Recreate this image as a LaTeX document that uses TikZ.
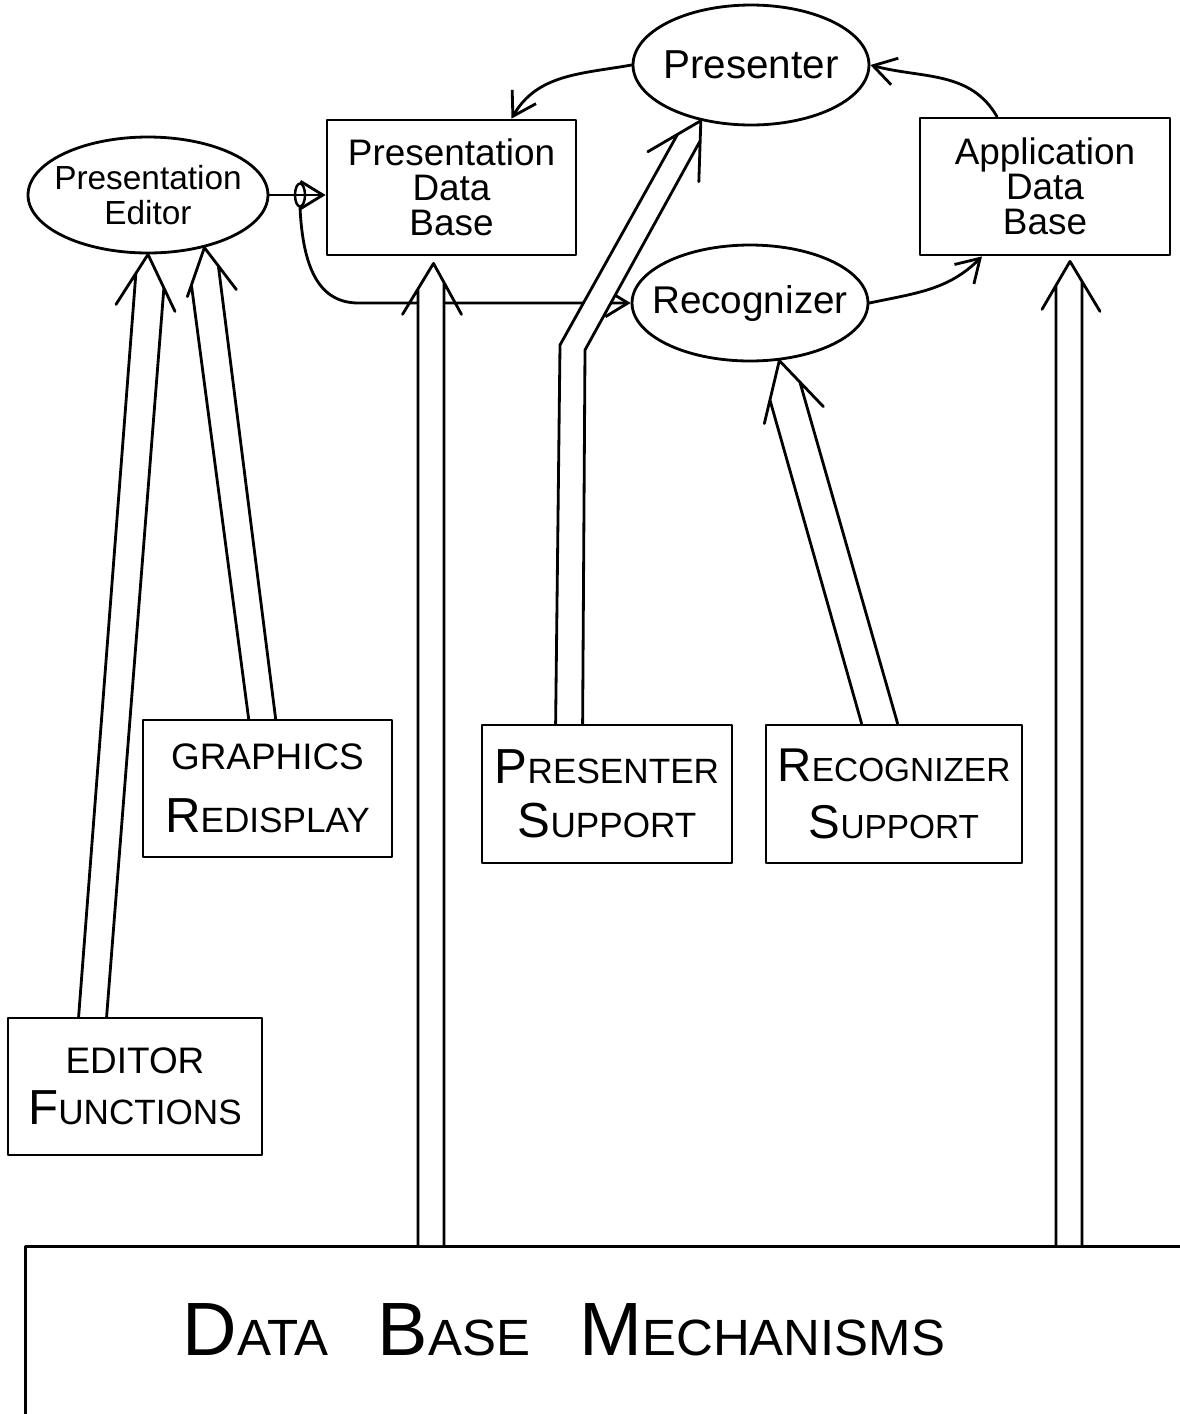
\documentclass[tikz,border=0pt]{standalone}
\usepackage{fontspec}
\setmainfont{Liberation Sans}
\usetikzlibrary{shapes.geometric,arrows.meta,calc}
\newcommand\bsx[4]{{\fontsize{#1}{#1}\selectfont #3}{\fontsize{#2}{#2}\selectfont #4}}
% #1 tip, #2 left wing, #3 right wing, #4 shaft bottom left, #5 left guide, #6 shaft bottom right, #7 right guide
\newcommand\fatarrow[7]{%
  \coordinate (fax) at (intersection of #4--#5 and #1--#2);
  \coordinate (fay) at (intersection of #6--#7 and #1--#3);
  \fill[white] (#4) -- (fax) -- (#1) -- (fay) -- (#6) -- cycle;
  \draw (#4) -- (fax) (#6) -- (fay) (#2) -- (#1) -- (#3);
}
\begin{document}
\begin{tikzpicture}[x=0.02cm,y=-0.02cm,line width=1.6pt,line cap=round,line join=round,
  box/.style={draw,rectangle,inner sep=0pt,align=center},
  oval/.style={draw,ellipse,inner sep=0pt},
  ovaltext/.style={font=\fontsize{#1}{20}\selectfont,align=center,inner sep=0pt},
  conn/.style={-{Straight Barb[length=4.5mm,width=5.5mm]}}]
\useasboundingbox (0,0) rectangle (1180,1414);
\clip (0,0) rectangle (1180,1414);
\fill[white] (0,0) rectangle (1180,1414);

% nodes
\node[oval,minimum width=4.8cm,minimum height=2.32cm,
  label={[ovaltext=19]center:Presentation\\Editor}] (pe) at (148,195) {};
\node[oval,minimum width=4.72cm,minimum height=2.4cm,
  label={[ovaltext=23]center:Presenter}] (pres) at (751,65) {};
\node[oval,minimum width=4.72cm,minimum height=2.32cm,
  label={[ovaltext=22]center:Recognizer}] (rec) at (750,303) {};
\node[box,minimum width=4.98cm,minimum height=2.7cm,font=\fontsize{21}{20}\selectfont] (pdb) at (451.5,187.5) {Presentation\\Data\\Base};
\node[box,minimum width=5cm,minimum height=2.74cm,font=\fontsize{21}{20}\selectfont] (app) at (1045,186.5) {Application\\Data\\Base};
\node[box,minimum width=4.98cm,minimum height=2.74cm,font=\fontsize{21}{36}\selectfont] (gr) at (267.5,788.5) {GRAPHICS\\\bsx{28}{20}{R}{EDISPLAY}};
\node[box,minimum width=5cm,minimum height=2.76cm,font=\fontsize{20}{31}\selectfont] (ps) at (607,794) {\bsx{28}{20}{P}{RESENTER}\\\bsx{28}{20}{S}{UPPORT}};
\node[box,minimum width=5.12cm,minimum height=2.76cm,font=\fontsize{20}{32}\selectfont] (rs) at (894,794) {\bsx{27}{19}{R}{ECOGNIZER}\\\bsx{27}{19}{S}{UPPORT}};
\node[box,minimum width=5.08cm,minimum height=2.74cm,font=\fontsize{21}{29}\selectfont] (ef) at (135,1086.5) {EDITOR\\\bsx{28}{20}{F}{UNCTIONS}};
\node[box,anchor=north west,minimum width=23.7cm,minimum height=4.1cm] (dbm) at (24,1245) {};
\node[anchor=base] (dbmt) at (564,1355) {\bsx{43}{29}{D}{ATA}\hspace{28pt}\bsx{43}{29}{B}{ASE}\hspace{28pt}\bsx{43}{29}{M}{ECHANISMS}};

% thin connectors
\node[draw,ellipse,minimum width=0.2cm,minimum height=0.46cm,inner sep=0pt,line width=1.4pt] (jn) at (300,195) {};
\draw[conn] (pe.east) -- (pdb.west |- pe.east);
\draw[conn] (jn.south) .. controls +(3,60) and +(-40,0) .. ($(rec.west)-(272,0)$) -- (rec.west);
\draw[conn] (pres.west) to[out=190,in=60] ($(pdb.north)+(60,0)$);
\draw[conn] ($(app.north)+(-48,0)$) to[out=120,in=-15] (pres.east);
\draw[conn] (rec.east) to[out=12,in=225] ($(app.south)+(-63,0)$);

% hollow arrows
% Editor Functions -> Presentation Editor
\coordinate (a1t) at (pe.south);
\coordinate (a1l) at ($(a1t)+(-32,50)$);
\coordinate (a1r) at ($(a1t)+(27,57)$);
\coordinate (a1bl) at ($(ef.north west)+(72,0)$);
\coordinate (a1br) at ($(ef.north west)+(100,0)$);
\coordinate (a1gl) at (130,350);
\coordinate (a1gr) at (159,350);
\fatarrow{a1t}{a1l}{a1r}{a1bl}{a1gl}{a1br}{a1gr}
% Graphics Redisplay -> Presentation Editor
\coordinate (a2t) at (pe.-43);
\coordinate (a2l) at ($(a2t)+(-17,49)$);
\coordinate (a2r) at ($(a2t)+(32,42)$);
\coordinate (a2bl) at ($(gr.north west)+(107,0)$);
\coordinate (a2br) at ($(gr.north west)+(134,0)$);
\coordinate (a2gl) at (200,350);
\coordinate (a2gr) at (229,350);
\fatarrow{a2t}{a2l}{a2r}{a2bl}{a2gl}{a2br}{a2gr}
% Data Base Mechanisms -> Presentation Data Base
\coordinate (a3t) at ($(pdb.south)+(-18,7)$);
\coordinate (a3l) at ($(a3t)+(-31,51)$);
\coordinate (a3r) at ($(a3t)+(28,51)$);
\coordinate (a3bl) at ($(dbm.north west)+(394,0)$);
\coordinate (a3br) at ($(dbm.north west)+(420,0)$);
\coordinate (a3gl) at ($(a3bl)+(0,-900)$);
\coordinate (a3gr) at ($(a3br)+(0,-900)$);
\fatarrow{a3t}{a3l}{a3r}{a3bl}{a3gl}{a3br}{a3gr}
% Data Base Mechanisms -> Application Data Base
\coordinate (a4t) at ($(app.south)+(25,5)$);
\coordinate (a4l) at ($(a4t)+(-28,48)$);
\coordinate (a4r) at ($(a4t)+(30,50)$);
\coordinate (a4bl) at ($(dbm.north west)+(1032,0)$);
\coordinate (a4br) at ($(dbm.north west)+(1058,0)$);
\coordinate (a4gl) at ($(a4bl)+(0,-900)$);
\coordinate (a4gr) at ($(a4br)+(0,-900)$);
\fatarrow{a4t}{a4l}{a4r}{a4bl}{a4gl}{a4br}{a4gr}
% Recognizer Support -> Recognizer
\coordinate (a6t) at (rec.-63);
\coordinate (a6l) at ($(a6t)+(-15,63)$);
\coordinate (a6r) at ($(a6t)+(44,46)$);
\coordinate (a6bl) at ($(rs.north west)+(97,0)$);
\coordinate (a6br) at ($(rs.north west)+(133,0)$);
\coordinate (a6gl) at (770,400);
\coordinate (a6gr) at (803,393);
\fatarrow{a6t}{a6l}{a6r}{a6bl}{a6gl}{a6br}{a6gr}
% Presenter Support -> Presenter (bent shaft)
\coordinate (p5t) at (pres.-132);
\coordinate (p5l) at ($(p5t)+(-53,31)$);
\coordinate (p5r) at ($(p5t)+(-2,61)$);
\coordinate (p5bl) at ($(ps.north west)+(75,0)$);
\coordinate (p5br) at ($(ps.north west)+(102,0)$);
\coordinate (p5kl) at (560,345);
\coordinate (p5kr) at (585,350);
\coordinate (p5gl) at ($(p5kl)+(116,-208)$);
\coordinate (p5gr) at ($(p5kr)+(109,-198)$);
\coordinate (p5lx) at (intersection of p5kl--p5gl and p5t--p5l);
\coordinate (p5rx) at (intersection of p5kr--p5gr and p5t--p5r);
\fill[white] (p5bl) -- (p5kl) -- (p5lx) -- (p5t) -- (p5rx) -- (p5kr) -- (p5br) -- cycle;
\draw (p5bl) -- (p5kl) -- (p5lx) (p5br) -- (p5kr) -- (p5rx) (p5l) -- (p5t) -- (p5r);
\end{tikzpicture}
\end{document}
